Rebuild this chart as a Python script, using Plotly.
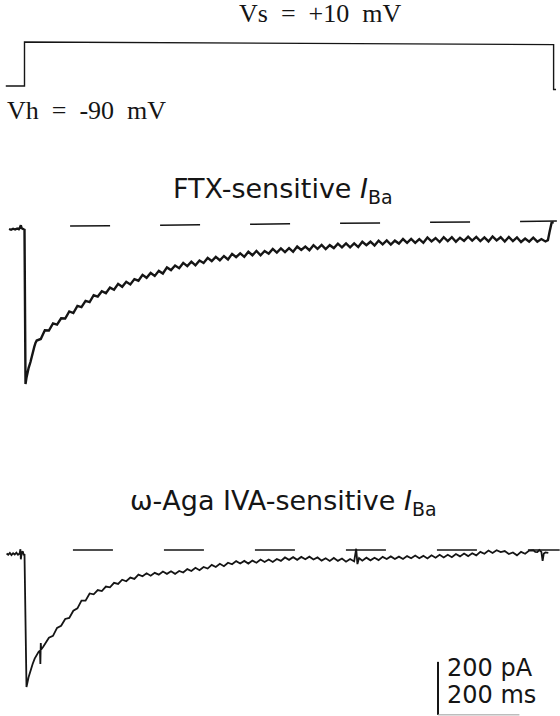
import plotly.graph_objects as go

# ---------------- data ----------------
# Voltage protocol (ms, mV)
V_T = [-46, 0, 0, 1300, 1300, 1306]
V_MV = [-90, -90, 10, 4, -98, -98]

# FTX-sensitive I_Ba (ms, pA)
FTX_T = [-38, -33, -28, -23, -18, -14, -11, -9, -7, -4, -1, 0,
         2.5, 5, 7.4, 10, 14.7, 19.7, 24, 27,
         30, 40, 50, 60, 70, 80, 90, 100, 110, 120,
         130, 140, 150, 160, 170, 180, 190, 200, 210, 220,
         230, 240, 250, 260, 270, 280, 290, 300, 310, 320,
         330, 340, 350, 360, 370, 380, 390, 400, 410, 420,
         430, 440, 450, 460, 470, 480, 490, 500, 510, 520,
         530, 540, 550, 560, 570, 580, 590, 600, 610, 620,
         630, 640, 650, 660, 670, 680, 690, 700, 710, 720,
         730, 740, 750, 760, 770, 780, 790, 800, 810, 820,
         830, 840, 850, 860, 870, 880, 890, 900, 910, 920,
         930, 940, 950, 960, 970, 980, 990, 1000, 1010, 1020,
         1030, 1040, 1050, 1060, 1070, 1080, 1090, 1100, 1110, 1120,
         1130, 1140, 1150, 1160, 1170, 1180, 1190, 1200, 1210, 1220,
         1230, 1240, 1250, 1260, 1270, 1280,
         1286, 1290, 1295, 1300]
FTX_PA = [0, -3, 1, -2, 2, -1, 6, 14, 3, 0, -2, 0,
          -585, -560, -540, -525, -502, -464, -445, -430,
          -421, -415, -382, -383, -356, -361, -337, -338, -311, -317,
          -290, -295, -271, -276, -250, -255, -235, -242, -221, -229,
          -207, -218, -199, -209, -189, -195, -173, -184, -166, -177,
          -158, -168, -145, -155, -138, -148, -128, -140, -123, -137,
          -119, -128, -109, -121, -105, -118, -102, -115, -94, -106,
          -92, -105, -86, -99, -83, -99, -83, -93, -75, -89,
          -73, -87, -72, -86, -66, -79, -66, -80, -61, -75,
          -60, -76, -61, -72, -55, -69, -54, -69, -54, -68,
          -48, -61, -48, -62, -44, -58, -43, -59, -44, -55,
          -38, -52, -37, -52, -38, -52, -32, -47, -34, -49,
          -31, -46, -31, -48, -33, -45, -29, -44, -30, -46,
          -32, -47, -28, -43, -31, -47, -30, -46, -32, -49,
          -36, -48, -33, -48, -38, -47,
          -42, -11, 23, 26]

# omega-Aga IVA-sensitive I_Ba (ms, pA)
AGA_T = [-44, -40, -36, -32, -28, -24, -20, -16, -12, -10, -9, -7, -4, -2, 0,
         4.9, 10, 14.7, 20, 25, 29.5, 35, 38, 39, 40, 41, 46, 52,
         60, 70, 80, 90, 100, 110, 120, 130, 140, 150,
         160, 170, 180, 190, 200, 210, 220, 230, 240, 250,
         260, 270, 280, 290, 300, 310, 320, 330, 340, 350,
         360, 370, 380, 390, 400, 410, 420, 430, 440, 450,
         460, 470, 480, 490, 500, 510, 520, 530, 540, 550,
         560, 570, 580, 590, 600, 610, 620, 630, 640, 650,
         660, 670, 680, 690, 700, 710, 720, 730, 740, 750,
         760, 770, 780, 790, 800, 810, 815, 818, 822,
         830, 840, 850, 860, 870, 880, 890, 900, 910, 920,
         930, 940, 950, 960, 970, 980, 990, 1000, 1010, 1020,
         1030, 1040, 1050, 1060, 1070, 1080, 1090, 1100, 1110, 1120,
         1130, 1140, 1150, 1160, 1170, 1180, 1190, 1200, 1210, 1220,
         1230, 1240, 1250, 1255, 1260, 1265, 1270, 1273, 1276, 1280, 1287]
AGA_PA = [2, -3, 4, -4, 3, -2, 5, -3, 2, 18, -20, 5, 10, -5, 0,
          -502, -465, -438, -415, -395, -381, -368, -365, -415, -336, -360, -350, -336,
          -316, -309, -279, -271, -245, -241, -214, -205, -176, -176,
          -149, -152, -136, -140, -123, -126, -109, -113, -97, -103,
          -89, -94, -78, -84, -73, -82, -71, -78, -66, -75,
          -65, -75, -64, -70, -57, -64, -52, -61, -49, -55,
          -41, -49, -37, -46, -33, -39, -27, -36, -26, -36,
          -25, -33, -21, -30, -21, -30, -19, -26, -13, -22,
          -12, -22, -11, -20, -10, -21, -13, -25, -16, -26,
          -15, -26, -17, -29, -19, -28, 20, -38, -15,
          -25, -14, -24, -14, -23, -11, -19, -9, -19, -10,
          -19, -8, -16, -6, -16, -7, -17, -5, -14, -3,
          -13, -3, -12, 0, -9, 2, -8, 3, -5, 8,
          1, 13, 4, 14, 7, 11, 0, 6, -5, 8,
          1, 13, 14, 8, 7, 15, 8, -26, 2, 6, 4]

# dashed zero-current reference lines (ms, pA)
FTX_ZERO_T = [112, 1308]
FTX_ZERO_PA = [11, 30]
AGA_ZERO_T = [119, 1315]
AGA_ZERO_PA = [15, 15]

# calibration bar
SCALE_PA = 200
SCALE_MS = 200
SCALE_T0 = 1016
SCALE_I0 = -607

SP = "\u2002"
LABELS = {
    "vs": f"Vs{SP}={SP}+10{SP}mV",
    "vh": f"Vh{SP}={SP}-90{SP}mV",
    "ftx": "FTX-sensitive <i>I</i><sub>Ba</sub>",
    "aga": "\u03c9-Aga IVA-sensitive <i>I</i><sub>Ba</sub>",
    "pa": "200 pA",
    "ms": "200 ms",
}

# ---------------- layout geometry ----------------
W, H = 560, 716
X0_PX, PX_PER_MS = 24.5, 0.407


def y_range(base_py, base_val, px_per_unit):
    return [base_val - (H - base_py) / px_per_unit, base_val + base_py / px_per_unit]


x_rng = [(0 - X0_PX) / PX_PER_MS, (W - X0_PX) / PX_PER_MS]
v_rng = y_range(86, -90, 0.44)
ftx_rng = y_range(229, 0, 0.265)
aga_rng = y_range(554, 0, 0.265)

INK = "#151515"

fig = go.Figure()
fig.add_trace(go.Scatter(x=V_T, y=V_MV, mode="lines", yaxis="y",
                         line=dict(color=INK, width=1.4)))
fig.add_trace(go.Scatter(x=FTX_ZERO_T, y=FTX_ZERO_PA, mode="lines", yaxis="y2",
                         line=dict(color=INK, width=1.5, dash="40px,50px")))
fig.add_trace(go.Scatter(x=FTX_T, y=FTX_PA, mode="lines", yaxis="y2",
                         line=dict(color=INK, width=2.4)))
fig.add_trace(go.Scatter(x=AGA_ZERO_T, y=AGA_ZERO_PA, mode="lines", yaxis="y3",
                         line=dict(color=INK, width=1.5, dash="40px,51px")))
fig.add_trace(go.Scatter(x=AGA_T, y=AGA_PA, mode="lines", yaxis="y3",
                         line=dict(color=INK, width=1.8)))
# calibration bar
fig.add_trace(go.Scatter(x=[SCALE_T0, SCALE_T0], y=[SCALE_I0 + SCALE_PA, SCALE_I0],
                         mode="lines", yaxis="y3", line=dict(color=INK, width=2)))
fig.add_trace(go.Scatter(x=[SCALE_T0, SCALE_T0 + SCALE_MS], y=[SCALE_I0, SCALE_I0],
                         mode="lines", yaxis="y3", line=dict(color="#9a9a9a", width=1)))


def ann(text, px, py, size, family, xanchor="center"):
    fig.add_annotation(text=text, x=px / W, y=1 - py / H, xref="paper", yref="paper",
                       xanchor=xanchor, yanchor="middle", showarrow=False,
                       font=dict(size=size, family=family, color=INK))


ann(LABELS["vs"], 320, 13, 26, "Liberation Serif")
ann(LABELS["vh"], 5, 110, 26, "Liberation Serif", "left")
ann(LABELS["ftx"], 283, 190, 27, "DejaVu Sans")
ann(LABELS["aga"], 283, 502, 27, "DejaVu Sans")
ann(LABELS["pa"], 445, 668, 24, "DejaVu Sans", "left")
ann(LABELS["ms"], 445, 695, 24, "DejaVu Sans", "left")

ax_common = dict(visible=False, showgrid=False, zeroline=False, fixedrange=True)
fig.update_layout(
    width=W, height=H,
    margin=dict(l=0, r=0, t=0, b=0, pad=0),
    paper_bgcolor="white", plot_bgcolor="white",
    showlegend=False,
    xaxis=dict(range=x_rng, domain=[0, 1], **ax_common),
    yaxis=dict(range=v_rng, domain=[0, 1], **ax_common),
    yaxis2=dict(range=ftx_rng, overlaying="y", **ax_common),
    yaxis3=dict(range=aga_rng, overlaying="y", **ax_common),
    hovermode=False,
)

fig.write_html("out.html")
